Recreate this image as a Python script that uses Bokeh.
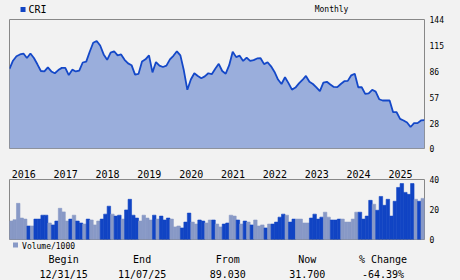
from bokeh.plotting import figure
from bokeh.models import Range1d, LinearAxis, FixedTicker, ColumnDataSource
from bokeh.core.properties import value
from bokeh.layouts import column
from bokeh.embed import file_html
from bokeh.resources import INLINE

symbol = "CRI"
period = "Monthly"
# monthly closes, Dec 2015 .. Nov 2025
price = [89, 98, 103, 105, 106, 101, 106, 101, 94, 86.5,
         86, 90.5, 86, 84, 87.5, 90, 90, 82, 88, 86,
         87, 96, 97, 108, 118, 120, 115, 105, 99, 107,
         108.6, 104, 105, 99, 95, 93, 82.5, 83.3, 97, 99.5,
         104, 85, 96.5, 92.5, 91, 92.5, 99.5, 103.5, 108.5, 104,
         87, 65.5, 77, 84, 81, 78.5, 80.5, 84, 83, 89,
         94.5, 86.5, 83.5, 93, 108, 102, 103.6, 97.8, 101.5, 97.8,
         98.6, 100.5, 100.8, 94.2, 96.3, 91.7, 85.5, 77, 72, 79.5,
         73, 65.7, 68, 72.7, 76.5, 81, 74.5, 72, 68.3, 64,
         73.5, 74.5, 71.4, 68.7, 68.5, 72, 75.1, 75.5, 81.7, 83.5,
         68.4, 68.4, 61, 61.5, 65.5, 63.5, 55, 53.6, 53.6, 53.6,
         40.5, 40.5, 33, 31.3, 29, 24, 28.3, 28.3, 31.3, 31.7]
# monthly volume / 1000, Jan 2016 .. Nov 2025
volume = [12.3, 13.2, 24.1, 14.3, 13.6, 9.0, 9.0, 13.6, 13.6, 16.2,
          16.2, 11.0, 9.7, 12.3, 20.8, 18.4, 12.3, 13.6, 16.2, 12.3,
          11.0, 10.3, 13.6, 13.0, 9.7, 12.3, 13.6, 16.9, 22.2, 16.9,
          15.6, 16.2, 13.6, 19.7, 26.8, 16.2, 14.3, 12.3, 16.2, 14.3,
          13.0, 16.2, 13.6, 15.6, 13.0, 14.3, 13.6, 8.4, 9.0, 7.7,
          11.6, 17.6, 11.6, 10.3, 13.0, 12.3, 11.0, 13.0, 13.0, 10.3,
          8.4, 10.3, 11.0, 16.2, 15.6, 13.0, 10.3, 12.3, 11.6, 9.7,
          13.0, 9.0, 9.7, 7.7, 10.3, 10.3, 11.6, 14.9, 16.9, 16.2,
          11.6, 13.6, 13.6, 13.6, 11.0, 11.0, 14.3, 16.9, 13.6, 14.9,
          18.2, 14.9, 13.0, 13.0, 13.6, 13.6, 11.6, 11.6, 13.6, 18.2,
          18.2, 13.6, 15.6, 26.1, 23.5, 19.5, 28.7, 22.8, 26.8, 15.6,
          25.5, 34.7, 37.3, 31.4, 30.1, 37.3, 26.8, 25.5, 27.4]
vol_dark = [0, 0, 0, 0, 0, 1, 0, 1, 1, 1,
            1, 0, 1, 1, 0, 0, 0, 1, 0, 1,
            1, 0, 1, 0, 0, 0, 1, 1, 1, 0,
            1, 1, 0, 1, 1, 1, 1, 0, 0, 0,
            0, 1, 0, 1, 1, 1, 0, 0, 0, 1,
            1, 1, 0, 0, 1, 1, 0, 0, 1, 0,
            0, 1, 1, 0, 0, 1, 0, 1, 0, 1,
            0, 0, 0, 1, 0, 1, 1, 1, 1, 0,
            1, 1, 0, 0, 0, 0, 1, 1, 1, 1,
            0, 0, 1, 1, 1, 0, 0, 0, 0, 0,
            1, 1, 1, 1, 0, 1, 1, 1, 1, 1,
            1, 1, 1, 1, 1, 1, 0, 1, 0]
year_labels = ["2016", "2017", "2018", "2019", "2020",
               "2021", "2022", "2023", "2024", "2025"]
price_ticks = [0, 28, 57, 86, 115, 144]
volume_ticks = [0, 20, 40]
volume_label = "Volume/1000"
stat_names = ["Begin", "End", "From", "Now", "% Change"]
stat_values = ["12/31/15", "11/07/25", "89.030", "31.700", "-64.39%"]

BG = "#F2F2F2"
GRID = "#888888"
LINE = "#1448C8"
FILL = "#9AAEDC"
DARK = "#1144C4"
LIGHT = "#8899C6"
MONO = "DejaVu Sans Mono"

n = len(price)
months = list(range(n))


def text_strip(height):
    f = figure(width=460, height=height, output_backend="svg", toolbar_location=None,
               x_axis_type=None, y_axis_type=None,
               x_range=Range1d(0, 460), y_range=Range1d(height, 0),
               min_border=0, min_border_left=0, min_border_right=0,
               min_border_top=0, min_border_bottom=0,
               background_fill_color=BG, border_fill_color=BG, outline_line_color=None)
    f.grid.visible = False
    return f


# ---------- header strip ----------
p0 = text_strip(14)
p0.scatter(x=[15], y=[9], marker="square", size=5, fill_color=DARK, line_color=None)
p0.text(x=[21], y=[9], text=[symbol], text_font=value(MONO), text_font_size="10px",
        text_align="left", text_baseline="middle", text_color="black")
p0.text(x=[357], y=[9], text=[period], text_font=value(MONO), text_font_size="8px",
        text_align="center", text_baseline="middle", text_color="black")

# ---------- price panel ----------
p1 = figure(width=460, height=146, output_backend="svg", toolbar_location=None,
            x_axis_type=None, y_axis_type=None,
            x_range=Range1d(0, n - 1), y_range=Range1d(0, 144),
            min_border_left=9, min_border_right=36, min_border_top=5, min_border_bottom=12,
            background_fill_color=BG, border_fill_color=BG,
            outline_line_color=GRID, outline_line_width=1)
ya = LinearAxis(ticker=FixedTicker(ticks=price_ticks),
                axis_line_color=None, major_tick_line_color=None, minor_tick_line_color=None,
                major_tick_out=0, major_tick_in=0, major_label_standoff=5,
                major_label_text_font=MONO, major_label_text_font_size="8px",
                major_label_text_color="black")
p1.add_layout(ya, "right")
p1.ygrid.ticker = FixedTicker(ticks=price_ticks[1:-1])
p1.ygrid.grid_line_color = GRID
p1.ygrid.grid_line_width = 1
p1.xgrid.grid_line_color = None

src = ColumnDataSource(dict(x=months, y=price))
p1.varea(x="x", y1=0, y2="y", source=src, fill_color=FILL)
p1.line(x="x", y="y", source=src, line_color=LINE, line_width=1.8)

# ---------- volume panel ----------
p2 = figure(width=460, height=93, output_backend="svg", toolbar_location=None,
            x_axis_type=None, y_axis_type=None,
            x_range=Range1d(0, n - 1), y_range=Range1d(0, 40),
            min_border_left=9, min_border_right=36, min_border_top=19, min_border_bottom=14,
            background_fill_color=BG, border_fill_color=BG,
            outline_line_color=GRID, outline_line_width=1)
year_pos = [1 + 12 * k + 3.1 for k in range(len(year_labels))]
xa = LinearAxis(ticker=FixedTicker(ticks=year_pos),
                major_label_overrides={t: lab for t, lab in zip(year_pos, year_labels)},
                axis_line_color=None, major_tick_line_color=None, minor_tick_line_color=None,
                major_tick_out=0, major_tick_in=0, major_label_standoff=2,
                major_label_text_font=MONO, major_label_text_font_size="10px",
                major_label_text_color="black")
p2.add_layout(xa, "above")
va = LinearAxis(ticker=FixedTicker(ticks=volume_ticks),
                axis_line_color=None, major_tick_line_color=None, minor_tick_line_color=None,
                major_tick_out=0, major_tick_in=0, major_label_standoff=5,
                major_label_text_font=MONO, major_label_text_font_size="8px",
                major_label_text_color="black")
p2.add_layout(va, "right")
p2.ygrid.ticker = FixedTicker(ticks=[20])
p2.ygrid.grid_line_color = GRID
p2.xgrid.grid_line_color = None

bar_x = [i + 0.5 for i in range(len(volume))]
bar_c = [DARK if d else LIGHT for d in vol_dark]
vsrc = ColumnDataSource(dict(x=bar_x, top=volume, color=bar_c))
p2.vbar(x="x", top="top", width=1.0, bottom=0, source=vsrc, fill_color="color",
        line_color="color", line_width=0.6)

# volume key below the volume frame: minor tick drawn as the colour swatch
key_text_pos = 11.2
key_swatch_pos = 1.72
ka = LinearAxis(ticker=FixedTicker(ticks=[key_text_pos], minor_ticks=[key_swatch_pos]),
                major_label_overrides={key_text_pos: volume_label},
                axis_line_color=None, major_tick_line_color=None,
                major_tick_out=0, major_tick_in=0,
                minor_tick_line_color=LIGHT, minor_tick_line_width=5,
                minor_tick_out=8, minor_tick_in=-3,
                major_label_standoff=-6,
                major_label_text_font=MONO, major_label_text_font_size="8px",
                major_label_text_color="black")
p2.add_layout(ka, "below")

# ---------- footer strip ----------
p3 = text_strip(27)
stat_x = [60, 147, 242, 330, 414]
p3.text(x=stat_x, y=[6] * 5, text=stat_names, text_font=value(MONO), text_font_size="10px",
        text_align="center", text_baseline="middle", text_color="black")
p3.text(x=stat_x, y=[20.5] * 5, text=stat_values, text_font=value(MONO), text_font_size="10px",
        text_align="center", text_baseline="middle", text_color="black")

layout = column(p0, p1, p2, p3, spacing=0, styles={"background-color": BG})
open("out.html", "w").write(file_html(layout, INLINE))
